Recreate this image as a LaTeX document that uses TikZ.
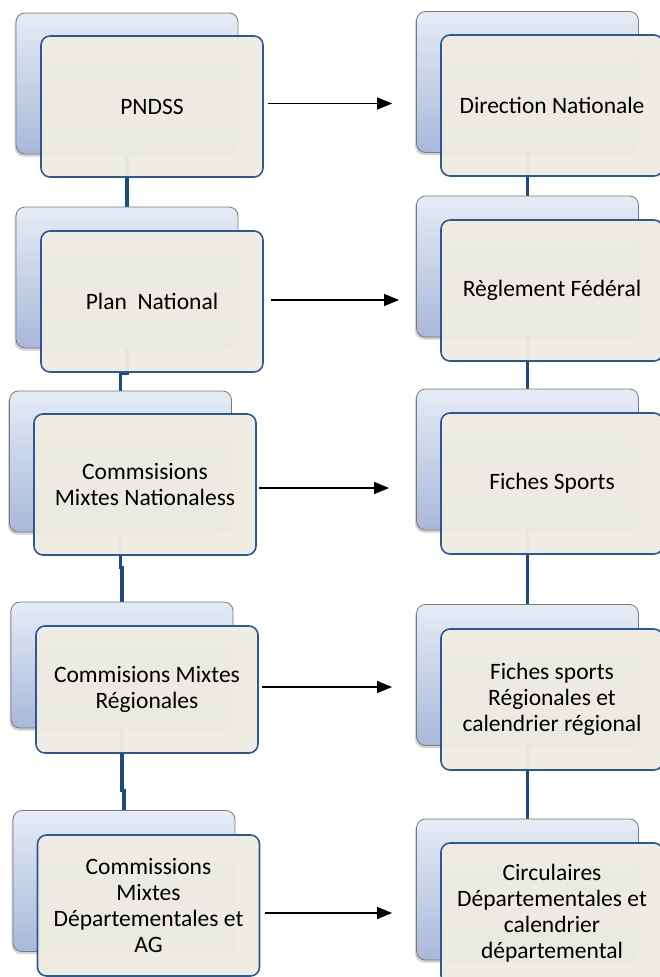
\documentclass[tikz,border=0pt]{standalone}
\usepackage{fontspec}
\setmainfont{Carlito}
\usetikzlibrary{calc, arrows.meta, shadows}

\definecolor{backtop}{HTML}{E6ECF6}
\definecolor{backbot}{HTML}{A8B8DA}
\definecolor{backline}{HTML}{7A7A7A}
\definecolor{frontfill}{HTML}{EEECE2}
\definecolor{frontline}{HTML}{2C5896}
\definecolor{linkblue}{HTML}{1F4A7E}

\newcommand{\boxfont}{\fontsize{23.5}{26}\selectfont}

\pgfdeclarelayer{bg}
\pgfsetlayers{bg,main}

\tikzset{
  backbox/.style={draw=backline, line width=0.8pt, rounded corners=9pt,
    top color=backtop, bottom color=backbot, minimum width=222pt,
    minimum height=141pt, inner sep=0pt,
    drop shadow={shadow xshift=-1.5pt, shadow yshift=-2.5pt, opacity=0.35}},
  frontbox/.style={draw=frontline, line width=1.6pt, rounded corners=9pt,
    fill=frontfill, fill opacity=0.965, text opacity=1, minimum width=222pt,
    minimum height=141pt, align=center, font=\boxfont},
  link/.style={draw=linkblue, line width=3.5pt},
  arr/.style={line width=1.3pt, -{Triangle[length=15pt,width=12pt]}}
}

\begin{document}
\begin{tikzpicture}[x=1pt, y=-1pt]
\useasboundingbox (0,0) rectangle (659,977);

% Back boxes
\node[backbox] (Lb1) at (127,83.5) {};
\node[backbox] (Lb2) at (127,277.5) {};
\node[backbox] (Lb3) at (120.5,461.5) {};
\node[backbox, minimum height=126pt] (Lb4) at (122,665) {};
\node[backbox] (Lb5) at (124,881) {};
\foreach \n/\y in {1/82, 2/266.5, 3/459.5, 4/675, 5/889.5}
  \node[backbox] (Rb\n) at (527.5,\y) {};

% Front boxes, left column
\node[frontbox] (L1) at (152,106.5) {PNDSS};
\node[frontbox] (L2) at (152,301.5) {Plan\ \ National};
\node[frontbox] (L3) at (145,484.5) {Commsisions\\Mixtes Nationaless};
\node[frontbox, minimum height=127pt] (L4) at (147,689.5) {Commisions Mixtes\\Régionales};
\node[frontbox] (L5) at (148.5,905.5) {Commissions\\Mixtes\\Départementales et\\AG};

% Front boxes, right column
\node[frontbox] (R1) at (552,105.5) {Direction Nationale};
\node[frontbox] (R2) at (552,290.5) {Règlement Fédéral};
\node[frontbox] (R3) at (552,483.5) {Fiches Sports};
\node[frontbox] (R4) at (552,699.5) {Fiches sports\\Régionales et\\calendrier régional};
\node[frontbox] (R5) at (552,913.5) {Circulaires\\Départementales et\\calendrier\\départemental};

% Vertical links behind the boxes
\begin{pgfonlayer}{bg}
\draw[link] (Lb1.south) -- (Lb2.north);
\draw[link] (Lb2.south) -- ++(0,25) -| (Lb3.north);
\draw[link] (Lb3.south) -- ++(0,35) -| (Lb4.north);
\draw[link] (Lb4.south) -- ++(0,62) -| (Lb5.north);
\foreach \a/\b in {1/2, 2/3, 3/4, 4/5}
  \draw[link] (Rb\a.south) -- (Rb\b.north);
\end{pgfonlayer}

% Arrows left to right
\foreach \n/\s/\d/\g in {1/4/-3/24, 2/7/-1.5/17, 3/2/3.5/27, 4/3/-2.5/24, 5/5/7.5/24}
  \draw[arr, shorten >=\g pt] ($(L\n.east)+(\s,\d)$) -- ($(L\n.east -| Rb\n.west)+(0,\d)$);

\end{tikzpicture}
\end{document}
